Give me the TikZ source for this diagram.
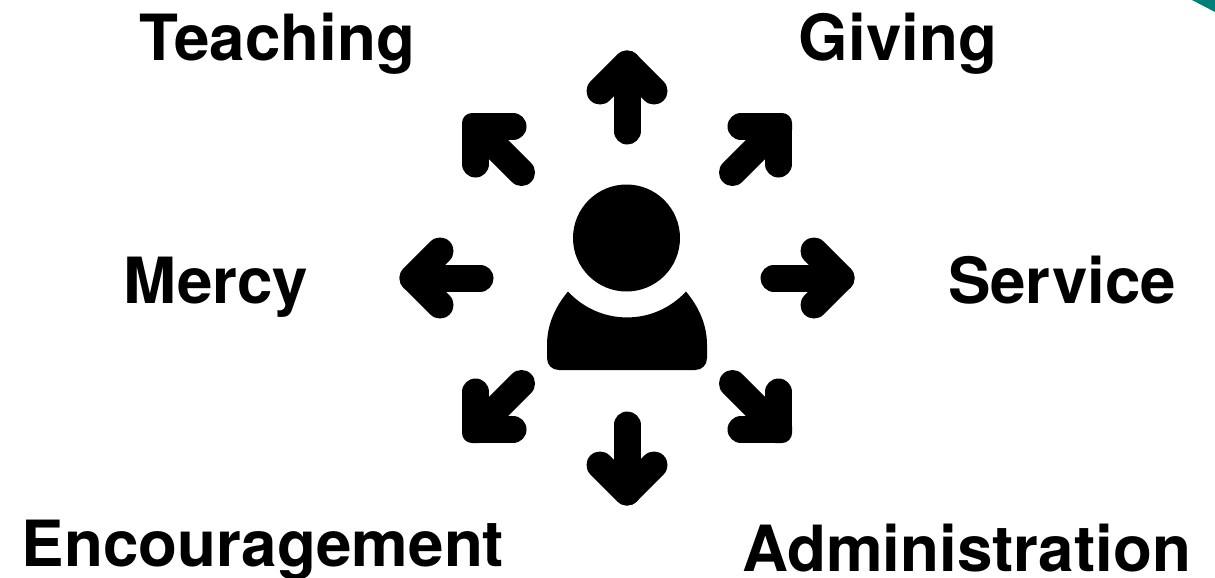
\documentclass[tikz,border=0pt]{standalone}
\usepackage{fontspec}
\setmainfont{TeX Gyre Heros}
\tikzset{
  glyphline/.style={draw=black,line width=27pt,line cap=round,line join=round},
  label/.style={font=\fontsize{63.7}{64}\selectfont\bfseries,text=black,inner sep=0pt,anchor=base}
}
\begin{document}
\begin{tikzpicture}[x=1pt,y=-1pt]
\useasboundingbox (0,0) rectangle (1215,578);
% corner mark
\fill[fill={rgb,255:red,0;green,127;blue,120}] (1192,0) -- (1215,12) -- (1215,0) -- cycle;
% person
\fill[black] (626.5,238) circle[radius=53.5];
\fill[black] (568,291.5) arc[start angle=137.5,end angle=42.5,radius=80]
  .. controls (699,307) and (707,325) .. (707,345)
  -- (707,358) .. controls (707,365) and (702,370) .. (695,370)
  -- (559,370) .. controls (552,370) and (547,365) .. (547,358)
  -- (547,345) .. controls (547,325) and (555,307) .. (568,291.5) -- cycle;
% arrows
\foreach \r in {0,90,180,270}{
  \begin{scope}[shift={(627,278)},rotate=\r]
    \draw[glyphline] (-27,-187) -- (0,-214) -- (27,-187);
    \draw[glyphline] (0,-214) -- (0,-147);
    \draw[glyphline] (-114,-151.5) -- (-151.5,-151.5) -- (-151.5,-114);
    \draw[glyphline] (-151.5,-151.5) -- (-105.5,-105.5);
    \fill[black,rounded corners=10pt] (-165,-165) rectangle (-138,-138);
  \end{scope}
}
% labels
\node[label] (teaching) at (277.5,60) {Teaching};
\node[label] (giving) at (898,60) {Giving};
\node[label] (mercy) at (216,303) {Mercy};
\node[label] (service) at (1062,303) {Service};
\node[label] (encouragement) at (263,566) {Encouragement};
\node[label] (administration) at (966.5,571) {Administration};
\end{tikzpicture}
\end{document}
